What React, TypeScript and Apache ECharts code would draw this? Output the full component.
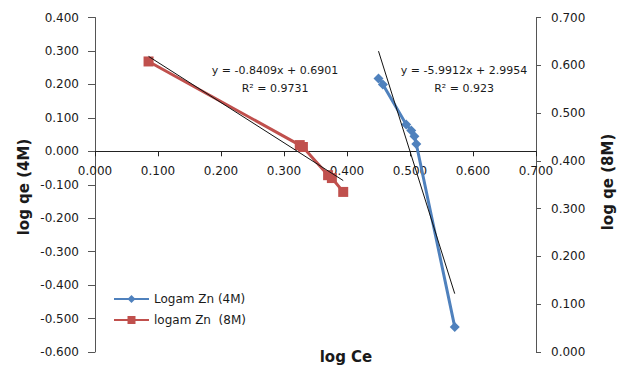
import { useEffect, useRef } from "react";
import * as echarts from "echarts";

// log Ce (x) and log qe (y) for the 4M zinc solution, left axis
const zn4mLogCe = [0.450, 0.457, 0.494, 0.502, 0.507, 0.510, 0.571];
const zn4mLogQe = [0.218, 0.200, 0.080, 0.062, 0.045, 0.022, -0.525];

// log Ce (x) and log qe (y) for the 8M zinc solution, right axis
const zn8mLogCe = [0.085, 0.325, 0.330, 0.370, 0.376, 0.394];
const zn8mLogQe = [0.608, 0.433, 0.429, 0.370, 0.364, 0.335];

// Linear trendline fits
const fit4m = { slope: -5.9912, intercept: 2.9954, r2: "0.923" };
const fit8m = { slope: -0.8409, intercept: 0.6901, r2: "0.9731" };

// Axis ranges
const xRange = { min: 0, max: 0.7, step: 0.1 };
const leftRange = { min: -0.6, max: 0.4, step: 0.1 };
const rightRange = { min: 0, max: 0.7, step: 0.1 };

const seriesNames = ["Logam Zn (4M)", "logam Zn  (8M)"];
const axisTitles = { x: "log Ce", left: "log qe (4M)", right: "log qe (8M)" };

const FONT = "DejaVu Sans";
const TEXT = "#1a1a1a";
const W = 630;
const H = 367;
const GRID = { left: 95, right: 94, top: 17.5, bottom: 15 };

function pairs(xs: number[], ys: number[]) {
  return xs.map((x, i) => [x, ys[i]]);
}

function trend(fit: { slope: number; intercept: number }, xs: number[]) {
  const lo = Math.min(...xs);
  const hi = Math.max(...xs);
  return [lo, hi].map((x) => [x, fit.slope * x + fit.intercept]);
}

function eqText(fit: { slope: number; intercept: number }) {
  const s = fit.slope < 0 ? `-${Math.abs(fit.slope).toFixed(4)}` : fit.slope.toFixed(4);
  return `y = ${s}x + ${fit.intercept.toFixed(4)}`;
}

export default function App() {
  const ref = useRef<HTMLDivElement>(null);

  useEffect(() => {
    if (!ref.current) return;
    const chart = echarts.init(ref.current, undefined, { renderer: "svg" });
    const fmt = (v: number) => (Math.abs(v) < 1e-9 ? 0 : v).toFixed(3);

    // the x axis crosses the left axis at zero
    const gridH = H - GRID.top - GRID.bottom;
    const zeroFromBottom = ((0 - leftRange.min) / (leftRange.max - leftRange.min)) * gridH;

    chart.setOption({
      animation: false,
      backgroundColor: "#ffffff",
      grid: { ...GRID },
      xAxis: {
        type: "value",
        min: xRange.min,
        max: xRange.max,
        interval: xRange.step,
        position: "bottom",
        offset: -zeroFromBottom,
        axisLine: { onZero: false, lineStyle: { color: "#222", width: 1 } },
        axisTick: { show: true, length: 5, inside: false, lineStyle: { color: "#222" } },
        axisLabel: { formatter: fmt, color: TEXT, fontFamily: FONT, fontSize: 12, margin: 14 },
        splitLine: { show: false },
      },
      yAxis: [
        {
          type: "value",
          min: leftRange.min,
          max: leftRange.max,
          interval: leftRange.step,
          position: "left",
          axisLine: { show: true, onZero: false, lineStyle: { color: "#555", width: 1 } },
          axisTick: { show: true, length: 7, lineStyle: { color: "#555" } },
          axisLabel: { formatter: fmt, color: TEXT, fontFamily: FONT, fontSize: 12, margin: 16 },
          splitLine: { show: false },
        },
        {
          type: "value",
          min: rightRange.min,
          max: rightRange.max,
          interval: rightRange.step,
          position: "right",
          axisLine: { show: true, onZero: false, lineStyle: { color: "#555", width: 1 } },
          axisTick: { show: true, length: 5, lineStyle: { color: "#555" } },
          axisLabel: { formatter: fmt, color: TEXT, fontFamily: FONT, fontSize: 12, margin: 15 },
          splitLine: { show: false },
        },
      ],
      legend: {
        data: seriesNames,
        orient: "vertical",
        left: 108,
        top: 288,
        itemWidth: 35,
        itemHeight: 10,
        itemGap: 9,
        textStyle: { color: TEXT, fontFamily: FONT, fontSize: 12 },
      },
      series: [
        {
          name: seriesNames[0],
          type: "line",
          yAxisIndex: 0,
          data: pairs(zn4mLogCe, zn4mLogQe),
          symbol: "diamond",
          symbolSize: 10,
          lineStyle: { color: "#4F81BD", width: 3 },
          itemStyle: { color: "#4F81BD" },
          z: 2,
        },
        {
          name: seriesNames[1],
          type: "line",
          yAxisIndex: 1,
          data: pairs(zn8mLogCe, zn8mLogQe),
          symbol: "rect",
          symbolSize: 10,
          lineStyle: { color: "#C0504D", width: 3 },
          itemStyle: { color: "#C0504D" },
          z: 2,
        },
        {
          name: "trend4m",
          type: "line",
          yAxisIndex: 0,
          data: trend(fit4m, zn4mLogCe),
          symbol: "none",
          lineStyle: { color: "#111", width: 1 },
          z: 3,
          silent: true,
        },
        {
          name: "trend8m",
          type: "line",
          yAxisIndex: 1,
          data: trend(fit8m, zn8mLogCe),
          symbol: "none",
          lineStyle: { color: "#111", width: 1 },
          z: 3,
          silent: true,
        },
      ],
      graphic: [
        {
          type: "text",
          x: 275,
          y: 70,
          style: { text: eqText(fit8m), fill: TEXT, font: `11px "${FONT}"`, align: "center", verticalAlign: "middle" },
        },
        {
          type: "text",
          x: 275,
          y: 88,
          style: { text: `R² = ${fit8m.r2}`, fill: TEXT, font: `11px "${FONT}"`, align: "center", verticalAlign: "middle" },
        },
        {
          type: "text",
          x: 464,
          y: 70,
          style: { text: eqText(fit4m), fill: TEXT, font: `11px "${FONT}"`, align: "center", verticalAlign: "middle" },
        },
        {
          type: "text",
          x: 464,
          y: 88,
          style: { text: `R² = ${fit4m.r2}`, fill: TEXT, font: `11px "${FONT}"`, align: "center", verticalAlign: "middle" },
        },
        {
          type: "text",
          x: 24,
          y: 187,
          rotation: Math.PI / 2,
          style: { text: axisTitles.left, fill: TEXT, font: `bold 15px "${FONT}"`, align: "center", verticalAlign: "middle" },
        },
        {
          type: "text",
          x: 608,
          y: 182,
          rotation: Math.PI / 2,
          style: { text: axisTitles.right, fill: TEXT, font: `bold 15px "${FONT}"`, align: "center", verticalAlign: "middle" },
        },
        {
          type: "text",
          x: 346,
          y: 357,
          style: { text: axisTitles.x, fill: TEXT, font: `bold 15px "${FONT}"`, align: "center", verticalAlign: "middle" },
        },
      ],
    });

    return () => chart.dispose();
  }, []);

  return (
    <div
      ref={ref}
      style={{ position: "fixed", left: 0, top: 0, width: W, height: H, background: "#fff" }}
    />
  );
}
